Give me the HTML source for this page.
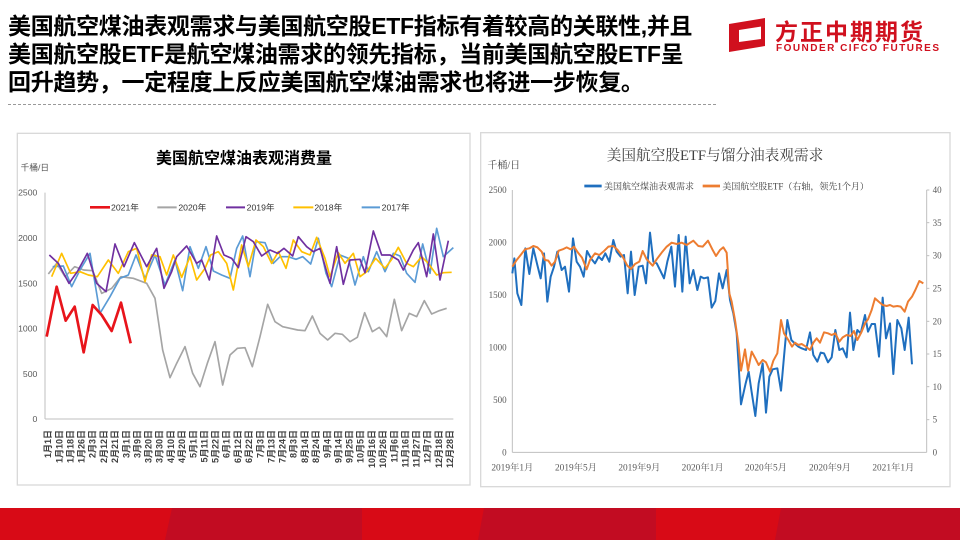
<!DOCTYPE html>
<html><head><meta charset="utf-8"><style>
body{margin:0;width:960px;height:540px;position:relative;background:#fff;overflow:hidden;font-family:"Liberation Sans","Noto Sans CJK SC",sans-serif}
.hd{position:absolute;left:8px;top:12px;font-size:23px;font-weight:bold;line-height:28px;color:#000;letter-spacing:-0.3px;white-space:nowrap}
.dash{position:absolute;left:8px;top:104px;width:708px;border-top:1px dashed #999}
.panel{position:absolute}
</style></head><body>
<div class="hd">美国航空煤油表观需求与美国航空股ETF指标有着较高的关联性,并且<br>美国航空股ETF是航空煤油需求的领先指标，当前美国航空股ETF呈<br>回升趋势，一定程度上反应美国航空煤油需求也将进一步恢复。</div>
<div class="dash"></div>
<svg style="position:absolute;left:725px;top:16px" width="230" height="40">
<path d="M4 8 L40 2 L40 10 L14 14 L14 26 L36 23 L36 10 L40 10 L40 30 L4 36 Z" fill="#d0101e"/>
<text x="50" y="24" font-size="23" font-weight="bold" fill="#d0101e" font-family="Liberation Sans,Noto Sans CJK SC,sans-serif" letter-spacing="2">方正中期期货</text>
<text x="51" y="35" font-size="10" font-weight="bold" fill="#d0101e" font-family="Liberation Sans,sans-serif" textLength="163">FOUNDER CIFCO FUTURES</text>
</svg>
<div style="position:absolute;left:0;top:508px;width:960px;height:32px;background:#d80a16"></div>
<svg style="position:absolute;left:0;top:508px" width="960" height="32"><polygon points="172,0 362,0 362,32 165,32" fill="#c20c22"/><polygon points="484,0 656,0 656,32 478,32" fill="#c20c22"/><polygon points="781,0 960,0 960,32 775,32" fill="#c20c22"/></svg>

<svg class="panel" style="left:0;top:120px" width="480" height="370" viewBox="0 0 1440 1110" font-family="Liberation Sans,Noto Sans CJK SC,sans-serif">
<rect x="52" y="40" width="1358" height="1055" fill="#fff" stroke="#d9d9d9" stroke-width="4"/>
<text x="732" y="130" font-size="48" font-weight="bold" text-anchor="middle">美国航空煤油表观消费量</text>
<text x="62" y="152" font-size="26" fill="#555">千桶/日</text>
<g font-size="26" fill="#595959" text-anchor="end">
<text x="112" y="227">2500</text><text x="112" y="363">2000</text><text x="112" y="499">1500</text><text x="112" y="635">1000</text><text x="112" y="771">500</text><text x="112" y="906">0</text></g>
<line x1="135" y1="218" x2="135" y2="897" stroke="#bfbfbf" stroke-width="3"/>
<line x1="135" y1="897" x2="1360" y2="897" stroke="#bfbfbf" stroke-width="3"/>
<g fill="none" stroke-width="5" stroke-linejoin="round">
<polyline stroke="#a5a5a5" points="145,462 170,430 195,470 224,440 251,450 278,452 305,520 335,505 363,470 400,475 440,490 465,535 488,690 510,773 530,730 555,680 578,760 600,800 622,730 645,665 668,795 690,705 712,685 735,683 757,740 780,650 803,553 825,605 848,620 870,625 893,630 915,632 937,588 960,640 983,660 1005,640 1027,643 1050,665 1072,652 1094,578 1117,635 1138,622 1160,650 1183,538 1205,632 1228,580 1250,590 1273,542 1295,582 1318,572 1340,565"/>
<polyline stroke="#5b9bd5" points="158,440 190,438 215,500 240,450 270,400 300,580 330,530 360,475 385,465 408,405 435,475 465,405 495,495 525,420 548,512 570,380 595,445 618,380 640,453 665,465 690,475 710,385 728,348 750,470 768,365 795,368 820,430 840,410 865,410 888,418 908,410 932,432 955,355 978,460 995,500 1020,405 1045,415 1065,495 1090,410 1105,455 1130,395 1155,455 1180,400 1200,408 1220,460 1245,487 1268,372 1290,460 1310,325 1330,410 1360,383"/>
<polyline stroke="#ffc000" points="155,470 185,400 212,460 240,455 265,465 292,470 325,420 355,460 385,395 410,385 435,485 455,405 480,410 500,465 520,405 545,472 570,410 590,480 615,445 632,405 655,395 680,430 700,510 725,375 745,440 768,360 790,380 815,430 835,395 858,445 880,360 905,395 930,405 950,352 975,415 990,470 1015,398 1035,430 1060,400 1080,470 1100,455 1127,415 1155,445 1175,418 1195,382 1220,430 1240,440 1265,410 1285,430 1310,465 1330,458 1355,457"/>
<polyline stroke="#7030a0" points="148,405 175,430 207,490 232,455 262,400 290,490 318,515 345,372 372,440 403,368 440,440 470,385 492,505 515,455 530,410 560,378 590,430 605,420 628,480 650,348 672,405 695,415 715,443 738,350 760,365 785,408 810,390 833,400 852,385 878,408 895,350 920,380 940,395 960,385 990,490 1010,380 1030,493 1050,420 1080,418 1095,458 1120,333 1145,405 1170,405 1195,420 1210,450 1240,390 1255,368 1280,470 1300,342 1320,480 1345,362"/>
<polyline stroke="#e8141b" stroke-width="8" points="140,650 170,500 197,602 224,560 251,697 278,555 305,585 335,633 363,548 392,670"/>
</g>
<g font-size="26" fill="#333">
<line x1="270" y1="262" x2="330" y2="262" stroke="#e8141b" stroke-width="8"/><text x="333" y="272">2021年</text>
<line x1="472" y1="262" x2="530" y2="262" stroke="#a5a5a5" stroke-width="6"/><text x="535" y="272">2020年</text>
<line x1="678" y1="262" x2="735" y2="262" stroke="#7030a0" stroke-width="6"/><text x="740" y="272">2019年</text>
<line x1="880" y1="262" x2="940" y2="262" stroke="#ffc000" stroke-width="6"/><text x="943" y="272">2018年</text>
<line x1="1085" y1="262" x2="1140" y2="262" stroke="#5b9bd5" stroke-width="6"/><text x="1145" y="272">2017年</text>
</g>
<g font-size="27" fill="#404040" font-weight="bold" text-anchor="end">
<text transform="translate(153,930) rotate(-90)">1月1日</text><text transform="translate(187,930) rotate(-90)">1月10日</text><text transform="translate(220,930) rotate(-90)">1月18日</text><text transform="translate(254,930) rotate(-90)">1月26日</text><text transform="translate(287,930) rotate(-90)">2月3日</text><text transform="translate(321,930) rotate(-90)">2月12日</text><text transform="translate(354,930) rotate(-90)">2月21日</text><text transform="translate(388,930) rotate(-90)">3月1日</text><text transform="translate(421,930) rotate(-90)">3月9日</text><text transform="translate(455,930) rotate(-90)">3月20日</text><text transform="translate(488,930) rotate(-90)">3月30日</text><text transform="translate(522,930) rotate(-90)">4月10日</text><text transform="translate(555,930) rotate(-90)">4月20日</text><text transform="translate(589,930) rotate(-90)">5月1日</text><text transform="translate(622,930) rotate(-90)">5月11日</text><text transform="translate(656,930) rotate(-90)">5月22日</text><text transform="translate(689,930) rotate(-90)">6月1日</text><text transform="translate(723,930) rotate(-90)">6月12日</text><text transform="translate(756,930) rotate(-90)">6月22日</text><text transform="translate(790,930) rotate(-90)">7月3日</text><text transform="translate(823,930) rotate(-90)">7月13日</text><text transform="translate(857,930) rotate(-90)">7月24日</text><text transform="translate(890,930) rotate(-90)">8月3日</text><text transform="translate(924,930) rotate(-90)">8月14日</text><text transform="translate(957,930) rotate(-90)">8月24日</text><text transform="translate(991,930) rotate(-90)">9月4日</text><text transform="translate(1024,930) rotate(-90)">9月14日</text><text transform="translate(1058,930) rotate(-90)">9月25日</text><text transform="translate(1091,930) rotate(-90)">10月5日</text><text transform="translate(1125,930) rotate(-90)">10月16日</text><text transform="translate(1158,930) rotate(-90)">10月26日</text><text transform="translate(1192,930) rotate(-90)">11月6日</text><text transform="translate(1225,930) rotate(-90)">11月16日</text><text transform="translate(1259,930) rotate(-90)">11月27日</text><text transform="translate(1292,930) rotate(-90)">12月7日</text><text transform="translate(1326,930) rotate(-90)">12月18日</text><text transform="translate(1359,930) rotate(-90)">12月28日</text>
</g>
</svg>

<svg class="panel" style="left:480px;top:120px" width="480" height="370" viewBox="0 0 1440 1110" font-family="Liberation Serif,Noto Serif CJK SC,serif">
<rect x="2" y="38" width="1408" height="1062" fill="#fff" stroke="#d9d9d9" stroke-width="4"/>
<text x="705" y="120" font-size="44" text-anchor="middle" fill="#404040">美国航空股ETF与馏分油表观需求</text>
<text x="22" y="145" font-size="30" fill="#404040">千桶/日</text>
<g font-size="27" fill="#595959" text-anchor="end">
<text x="80" y="219">2500</text><text x="80" y="376">2000</text><text x="80" y="534">1500</text><text x="80" y="691">1000</text><text x="80" y="849">500</text><text x="80" y="1006">0</text></g>
<g font-size="27" fill="#595959">
<text x="1358" y="219">40</text><text x="1358" y="318">35</text><text x="1358" y="416">30</text><text x="1358" y="515">25</text><text x="1358" y="613">20</text><text x="1358" y="711">15</text><text x="1358" y="810">10</text><text x="1358" y="908">5</text><text x="1358" y="1006">0</text></g>
<line x1="97" y1="210" x2="97" y2="997" stroke="#bfbfbf" stroke-width="3"/>
<line x1="97" y1="997" x2="1340" y2="997" stroke="#bfbfbf" stroke-width="3"/>
<line x1="1340" y1="210" x2="1340" y2="997" stroke="#bfbfbf" stroke-width="3"/>
<g stroke="#bfbfbf" stroke-width="3"><line x1="1340" y1="210" x2="1348" y2="210"/><line x1="1340" y1="308" x2="1348" y2="308"/><line x1="1340" y1="407" x2="1348" y2="407"/><line x1="1340" y1="505" x2="1348" y2="505"/><line x1="1340" y1="604" x2="1348" y2="604"/><line x1="1340" y1="702" x2="1348" y2="702"/><line x1="1340" y1="800" x2="1348" y2="800"/><line x1="1340" y1="899" x2="1348" y2="899"/></g>
<g font-size="28" fill="#595959" text-anchor="middle">
<text x="97" y="1052">2019年1月</text><text x="288" y="1052">2019年5月</text><text x="478" y="1052">2019年9月</text><text x="668" y="1052">2020年1月</text><text x="858" y="1052">2020年5月</text><text x="1050" y="1052">2020年9月</text><text x="1240" y="1052">2021年1月</text></g>
<g fill="none" stroke-width="6" stroke-linejoin="round">
<polyline stroke="#1f6fbf" points="97,460 103,415 112,520 124,555 136,385 148,462 160,385 172,435 182,475 192,400 202,545 212,470 222,440 232,395 245,450 255,440 267,515 279,355 290,425 300,440 311,470 321,393 333,415 345,430 356,410 366,420 376,400 388,425 400,360 410,395 422,410 432,405 443,520 453,395 464,525 476,440 488,437 498,490 510,338 520,425 530,430 540,450 552,475 562,425 574,380 585,500 596,345 607,515 617,350 629,490 640,450 652,510 662,470 672,475 684,472 695,563 706,543 717,460 728,505 740,450 750,540 760,580 770,640 783,853 797,790 806,755 814,810 826,888 836,790 848,730 858,878 868,770 878,748 892,745 903,812 912,710 922,600 934,660 944,670 955,680 965,685 978,690 990,637 1000,705 1012,725 1022,698 1032,700 1044,727 1055,712 1066,630 1078,690 1088,685 1100,712 1110,578 1120,690 1132,630 1142,640 1155,585 1164,635 1175,612 1185,612 1197,710 1208,533 1218,655 1230,610 1240,762 1252,600 1264,625 1274,690 1286,593 1296,733"/>
<polyline stroke="#ed7d31" points="97,440 110,420 122,405 135,388 148,385 160,378 172,382 185,395 195,420 205,422 215,437 225,425 236,392 248,388 260,382 272,388 282,380 294,398 306,413 320,448 330,420 345,400 358,405 370,395 385,380 400,378 413,390 428,410 442,437 453,447 465,432 478,425 488,393 500,418 518,437 530,418 545,398 560,380 575,368 590,372 605,368 620,375 640,362 655,378 668,380 684,362 697,388 708,408 720,390 730,382 740,398 748,520 755,545 765,600 775,670 783,752 795,688 804,752 815,695 826,715 836,735 848,720 858,727 870,755 880,722 892,700 903,600 912,640 925,660 936,680 945,668 955,675 965,672 978,680 990,690 1000,668 1010,655 1020,668 1032,637 1044,640 1055,645 1066,640 1078,665 1088,652 1100,645 1112,648 1122,633 1132,660 1145,635 1155,610 1164,598 1175,570 1185,535 1196,545 1208,555 1220,558 1230,555 1240,560 1252,558 1262,560 1274,575 1284,545 1296,530 1306,510 1318,483 1330,490"/>
</g>
<g font-size="27" fill="#404040">
<line x1="313" y1="198" x2="365" y2="198" stroke="#1f6fbf" stroke-width="8"/><text x="372" y="208">美国航空煤油表观需求</text>
<line x1="668" y1="198" x2="720" y2="198" stroke="#ed7d31" stroke-width="8"/><text x="727" y="208">美国航空股ETF（右轴，领先1个月）</text>
</g>
</svg>
</body></html>
